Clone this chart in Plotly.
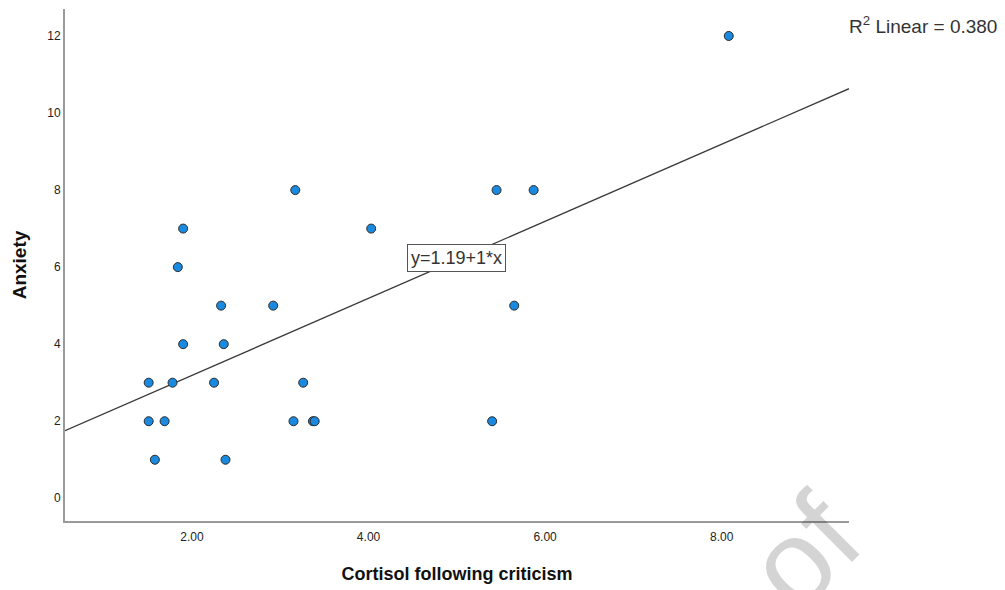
import plotly.graph_objects as go

# Data
cortisol = [2.33, 2.92, 1.90, 2.36, 1.51, 1.78, 2.25, 3.26, 1.51, 1.69, 3.15, 3.37, 3.39,
            1.58, 2.38, 3.17, 1.90, 1.84, 5.45, 5.87, 4.03, 5.65, 5.40, 8.08]
anxiety = [5, 5, 4, 4, 3, 3, 3, 3, 2, 2, 2, 2, 2,
           1, 1, 8, 7, 6, 8, 8, 7, 5, 2, 12]

fit_intercept = 1.19
fit_slope = 1.0
r_squared = 0.380

x_range = [0.562, 9.442]
y_range = [-0.59, 12.70]
x_ticks = [2, 4, 6, 8]
x_ticklabels = ["2.00", "4.00", "6.00", "8.00"]
y_ticks = [0, 2, 4, 6, 8, 10, 12]

FONT = "Arial, 'Liberation Sans', sans-serif"
W, H = 1005, 590
ML, MR, MT, MB = 65, 156, 9, 69
PW, PH = W - ML - MR, H - MT - MB

fig = go.Figure()

fit_x = [x_range[0], x_range[1]]
fit_y = [fit_intercept + fit_slope * v for v in fit_x]
fig.add_trace(go.Scatter(x=fit_x, y=fit_y, mode="lines",
                         line=dict(color="#3a3a3a", width=1.3),
                         hoverinfo="skip", showlegend=False))

fig.add_trace(go.Scatter(x=cortisol, y=anxiety, mode="markers",
                         marker=dict(size=9, color="#1a8ae0",
                                     line=dict(color="#2b2b2b", width=1)),
                         showlegend=False))

fig.update_layout(
    width=W, height=H,
    margin=dict(l=ML, r=MR, t=MT, b=MB),
    paper_bgcolor="white", plot_bgcolor="white",
    font=dict(family=FONT, color="#222"),
    xaxis=dict(range=x_range, tickvals=x_ticks, ticktext=x_ticklabels,
               showgrid=False, zeroline=False, showline=True,
               linecolor="#9a9a9a", linewidth=2, ticks="", ticklabelstandoff=4,
               tickfont=dict(size=12, color="#222"),
               title=dict(text="<b>Cortisol following criticism</b>",
                          font=dict(size=18, color="#111"), standoff=24)),
    yaxis=dict(range=y_range, tickvals=y_ticks,
               showgrid=False, zeroline=False, showline=True,
               linecolor="#9a9a9a", linewidth=2, ticks="",
               tickfont=dict(size=12, color="#222"),
               title=dict(text="<b>Anxiety</b>",
                          font=dict(size=19, color="#111"), standoff=16)),
)

fig.add_annotation(x=5.0, y=6.24, xref="x", yref="y",
                   text=f"y={fit_intercept:.2f}+{fit_slope:g}*x",
                   showarrow=False, font=dict(size=18, color="#333"),
                   bgcolor="white", bordercolor="#555", borderwidth=1, borderpad=3)

fig.add_annotation(x=(999 - ML) / PW, y=(H - MB - 25) / PH, xref="paper", yref="paper",
                   text=f"R<sup>2</sup> Linear = {r_squared:.3f}",
                   showarrow=False, font=dict(size=19, color="#333"),
                   xanchor="right", yanchor="middle")

fig.add_annotation(x=1.052, y=-0.227, xref="paper", yref="paper",
                   text="of", textangle=-45, showarrow=False,
                   font=dict(size=120, color="rgba(0,0,0,0.17)"))

fig.write_html("out.html")
